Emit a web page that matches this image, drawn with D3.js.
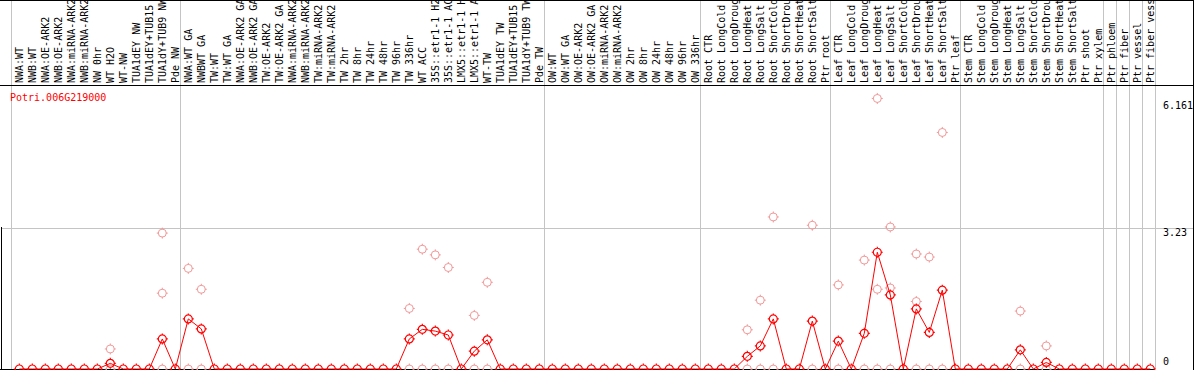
<!DOCTYPE html>
<html>
<head>
<meta charset="utf-8">
<script src="https://cdn.jsdelivr.net/npm/d3@7"></script>
<style>
  html, body { margin: 0; padding: 0; background: #fff; }
  svg { display: block; font-family: 'DejaVu Sans Mono', monospace; font-size: 10px; }
</style>
</head>
<body>
<div id="chart"></div>
<script>
const geneId = 'Potri.006G219000';

const samples = [
  'NWA:WT', 'NWB:WT', 'NWA:OE-ARK2', 'NWB:OE-ARK2', 'NWA:miRNA-ARK2', 'NWB:miRNA-ARK2',
  'NW 0hr', 'WT H2O', 'WT-NW', 'TUA1dEY NW', 'TUA1dEY+TUB15 NW', 'TUA1dY+TUB9 NW', 'Pde NW',
  'NWA:WT GA', 'NWBWT GA', 'TW:WT', 'TW:WT GA', 'NWA:OE-ARK2 GA', 'NWB:OE-ARK2 GA',
  'TW:OE-ARK2', 'TW:OE-ARK2 GA', 'NWA:miRNA-ARK2', 'NWB:miRNA-ARK2', 'TW:miRNA-ARK2',
  'TW:miRNA-ARK2', 'TW 2hr', 'TW 8hr', 'TW 24hr', 'TW 48hr', 'TW 96hr', 'TW 336hr',
  'WT ACC', '35S::etr1-1 H2O', '35S::etr1-1 ACC', 'LMX5::etr1-1 H2O', 'LMX5::etr1-1 ACC',
  'WT-TW', 'TUA1dEY TW', 'TUA1dEY+TUB15 TW', 'TUA1dY+TUB9 TW', 'Pde TW',
  'OW:WT', 'OW:WT GA', 'OW:OE-ARK2', 'OW:OE-ARK2 GA', 'OW:miRNA-ARK2', 'OW:miRNA-ARK2',
  'OW 2hr', 'OW 8hr', 'OW 24hr', 'OW 48hr', 'OW 96hr', 'OW 336hr',
  'Root CTR', 'Root LongCold', 'Root LongDrought', 'Root LongHeat', 'Root LongSalt',
  'Root ShortCold', 'Root ShortDrought', 'Root ShortHeat', 'Root ShortSalt', 'Ptr root',
  'Leaf CTR', 'Leaf LongCold', 'Leaf LongDrought', 'Leaf LongHeat', 'Leaf LongSalt',
  'Leaf ShortCold', 'Leaf ShortDrought', 'Leaf ShortHeat', 'Leaf ShortSalt', 'Ptr leaf',
  'Stem CTR', 'Stem LongCold', 'Stem LongDrought', 'Stem LongHeat', 'Stem LongSalt',
  'Stem ShortCold', 'Stem ShortDrought', 'Stem ShortHeat', 'Stem ShortSalt', 'Ptr shoot',
  'Ptr xylem', 'Ptr phloem', 'Ptr fiber', 'Ptr vessel', 'Ptr fiber vessel'
];

// index of the first sample of each experiment group (last entry = end)
const groupStarts = [0, 13, 41, 53, 63, 73, 84, 85, 86, 87, 88];

// mean expression per sample
const means = [
  0, 0, 0, 0, 0, 0, 0, 0.13, 0, 0,
  0, 0.69, 0, 1.15, 0.92, 0, 0, 0, 0, 0,
  0, 0, 0, 0, 0, 0, 0, 0, 0, 0,
  0.69, 0.91, 0.87, 0.78, 0, 0.41, 0.67, 0, 0, 0,
  0, 0, 0, 0, 0, 0, 0, 0, 0, 0,
  0, 0, 0, 0, 0, 0, 0.29, 0.53, 1.15, 0,
  0, 1.10, 0, 0.64, 0, 0.82, 2.68, 1.70, 0, 1.38,
  0.84, 1.81, 0, 0, 0, 0, 0, 0.44, 0, 0.15,
  0, 0, 0, 0, 0, 0, 0, 0
];

// replicate values: [sample index, values]
const replicates = [
  [7, [0.46, 0]], [11, [3.12, 1.74, 0]], [13, [2.31, 0]], [14, [1.83, 0]],
  [30, [1.39, 0]], [31, [2.75, 0]], [32, [2.62, 0]], [33, [2.33, 0]],
  [35, [1.23, 0]], [36, [1.99, 0]], [56, [0.90, 0]], [57, [1.58, 0]],
  [58, [3.49, 0]], [61, [3.30, 0]], [63, [1.93, 0]], [65, [2.50, 0]],
  [66, [6.21, 1.83, 0]], [67, [3.26, 1.86, 0]], [69, [2.64, 1.55, 0]],
  [70, [2.57, 0]], [71, [5.43, 0]], [77, [1.33, 0]], [79, [0.53, 0]]
];

const yTicks = [0, 3.23, 6.161];

const width = 1194, height = 370;
const headerBottom = 85;

const x = d3.scaleBand().domain(d3.range(samples.length)).range([11, 1155]).paddingInner(0);
const cx = i => x(i) + 8.3;
const y = d3.scaleLinear().domain([0, 6.161]).range([369, 100.6]);

const svg = d3.select('#chart')
  .append('svg')
  .attr('width', width)
  .attr('height', height);

// horizontal grid line at the middle tick
svg.append('line')
  .attr('x1', 1).attr('x2', width - 1)
  .attr('y1', Math.round(y(3.23)) + 0.5).attr('y2', Math.round(y(3.23)) + 0.5)
  .attr('stroke', '#c4c4c4');

// group separators
svg.append('g')
  .selectAll('line')
  .data(groupStarts)
  .join('line')
  .attr('x1', d => Math.round(x(d) ?? 1155) + 0.5)
  .attr('x2', d => Math.round(x(d) ?? 1155) + 0.5)
  .attr('y1', 0).attr('y2', 369)
  .attr('stroke', '#c4c4c4');

// frame
svg.append('line').attr('x1', 0).attr('x2', width).attr('y1', 0.5).attr('y2', 0.5).attr('stroke', '#000');
svg.append('line').attr('x1', 0).attr('x2', width).attr('y1', headerBottom + 0.5).attr('y2', headerBottom + 0.5).attr('stroke', '#000');
svg.append('line').attr('x1', width - 0.5).attr('x2', width - 0.5).attr('y1', 0).attr('y2', height).attr('stroke', '#000');
svg.append('line').attr('x1', 0).attr('x2', 1155).attr('y1', 369.5).attr('y2', 369.5).attr('stroke', '#000');
svg.append('line').attr('x1', 1.5).attr('x2', 1.5).attr('y1', 227).attr('y2', 370).attr('stroke', '#000');

// sample labels
svg.append('g')
  .selectAll('text')
  .data(samples)
  .join('text')
  .attr('transform', (d, i) => `translate(${cx(i)},83) rotate(-90)`)
  .attr('dy', '0.35em')
  .attr('fill', '#000')
  .text(d => d);

// right axis labels
svg.append('g')
  .selectAll('text')
  .data(yTicks)
  .join('text')
  .attr('x', 1163)
  .attr('y', d => d === 0 ? 365 : y(d) + 8)
  .attr('fill', '#000')
  .text(d => d);

svg.append('text')
  .attr('x', 10)
  .attr('y', 101)
  .attr('fill', '#ff0000')
  .text(geneId);

const marker = 'M-4,0a4,4 0 1,0 8,0a4,4 0 1,0 -8,0M0,-5.5V-3.5M0,3.5V5.5M-5.5,0H-3.5M3.5,0H5.5';

// replicate points
const repPoints = replicates.flatMap(([i, vals]) => vals.map(v => ({ i, v })));
svg.append('g')
  .selectAll('path')
  .data(repPoints)
  .join('path')
  .attr('d', marker)
  .attr('transform', d => `translate(${cx(d.i)},${y(d.v)})`)
  .attr('fill', 'none')
  .attr('stroke', '#f09a9a')
  .attr('stroke-width', 1);

// mean line
svg.append('path')
  .datum(means)
  .attr('d', d3.line().x((d, i) => cx(i)).y(d => y(d)))
  .attr('fill', 'none')
  .attr('stroke', '#ff0000')
  .attr('stroke-width', 1);

svg.append('g')
  .selectAll('path')
  .data(means)
  .join('path')
  .attr('d', marker)
  .attr('transform', (d, i) => `translate(${cx(i)},${y(d)})`)
  .attr('fill', 'none')
  .attr('stroke', '#ff0000')
  .attr('stroke-width', 1.2);
</script>
</body>
</html>
